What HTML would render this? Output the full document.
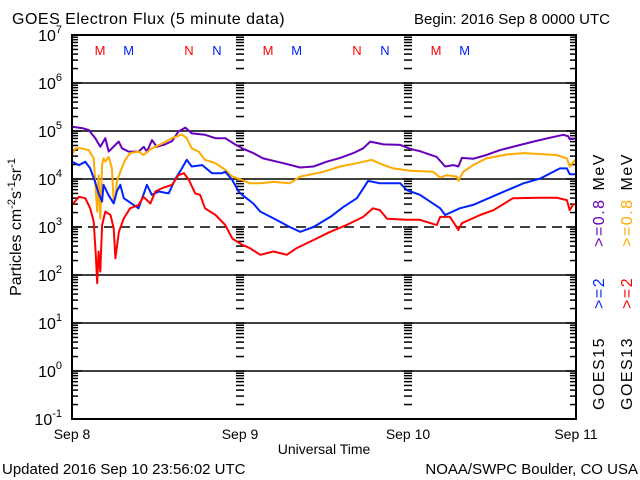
<!DOCTYPE html>
<html><head><meta charset="utf-8"><style>
html,body{margin:0;padding:0;background:#fff;}
svg{display:block;font-family:"Liberation Sans",sans-serif;}
</style></head><body>
<svg id="chart" width="640" height="480" viewBox="0 0 640 480">
<text x="12" y="24" font-size="16" letter-spacing="0.5">GOES Electron Flux (5 minute data)</text>
<text x="610" y="24" font-size="15" text-anchor="end">Begin: 2016 Sep 8 0000 UTC</text>
<g id="grid"></g>
<g id="ticks"></g>
<g id="series"></g>
<rect x="72" y="35" width="504" height="384" fill="none" stroke="#000" stroke-width="2"/>
<g id="ylabels"></g>
<g id="xlabels"></g>
<g id="markers"></g>
<text transform="translate(21,227) rotate(-90)" font-size="16" text-anchor="middle">Particles cm<tspan font-size="11" dy="-6">-2</tspan><tspan dy="6">s</tspan><tspan font-size="11" dy="-6">-1</tspan><tspan dy="6">sr</tspan><tspan font-size="11" dy="-6">-1</tspan></text>
<text x="324" y="454" font-size="14" text-anchor="middle">Universal Time</text>
<text x="2" y="474" font-size="15">Updated 2016 Sep 10 23:56:02 UTC</text>
<text x="638" y="474" font-size="15" text-anchor="end">NOAA/SWPC Boulder, CO USA</text>
<text transform="translate(604,410) rotate(-90)" font-size="16" letter-spacing="1.5"><tspan fill="#000">GOES15</tspan><tspan fill="#0022ff" dx="28">&gt;=2</tspan><tspan fill="#6600bb" dx="30">&gt;=0.8</tspan><tspan fill="#000" dx="8">MeV</tspan></text>
<text transform="translate(632,410) rotate(-90)" font-size="16" letter-spacing="1.5"><tspan fill="#000">GOES13</tspan><tspan fill="#ff0000" dx="28">&gt;=2</tspan><tspan fill="#ffaa00" dx="30">&gt;=0.8</tspan><tspan fill="#000" dx="8">MeV</tspan></text>
</svg>
<script>
const hoursP=[0,1.43,2.38,3.33,4.05,4.76,5.24,6.19,6.67,7.14,8.1,9.52,10.24,10.7,11.43,12.1,13.3,14.3,15.2,16.2,17.1,19,20.5,21.9,23.3,24.3,25.9,27.3,30.2,32.6,34.5,36.4,38.3,40.2,41.6,42.6,44.5,46.9,48.3,49.7,52.1,53.3,54.5,55.2,55.7,57.3,59.2,61.1,63.5,65.9,68.3,70.2,70.9,71.1,71.9];
const purple=[5.09,5.06,5.02,4.85,4.67,4.85,4.57,4.71,4.78,4.64,4.57,4.57,4.67,4.57,4.81,4.67,4.72,4.79,4.99,5.07,4.95,4.92,4.85,4.85,4.72,4.64,4.54,4.43,4.33,4.24,4.26,4.36,4.44,4.54,4.64,4.78,4.72,4.71,4.63,4.58,4.46,4.26,4.29,4.26,4.44,4.42,4.5,4.6,4.69,4.78,4.86,4.92,4.89,4.83,4.84];
const hoursO=[0,0.5,1.4,2.4,3.1,3.6,3.8,4.05,4.3,4.5,4.76,5.24,5.7,5.95,6.2,6.4,6.9,7.6,8.3,9.5,10.2,11.4,12.9,14.3,15.7,16.4,17.1,18.1,19,20.5,21.9,22.9,24.3,25.4,26.9,28.8,31.1,32.6,35.9,38.3,40.7,42.8,44.5,45.9,48.3,51.6,52.6,53.5,55,55.2,55.9,57.3,59.2,62.1,64.5,69.2,70.7,71.1,71.9];
const orange=[4.5,4.64,4.64,4.6,4.43,3.32,4.08,3.18,4.29,4.43,4.36,4.46,4.22,3.53,3.6,3.94,4.15,4.4,4.54,4.57,4.5,4.64,4.74,4.85,4.93,4.85,4.64,4.57,4.4,4.33,4.19,4.05,3.98,3.91,3.91,3.94,3.91,4.05,4.15,4.26,4.33,4.4,4.29,4.22,4.17,4.15,4.03,4.08,4.05,3.96,4.15,4.29,4.43,4.51,4.54,4.5,4.43,4.26,4.4];
const hoursB=[0,1,1.9,2.6,3.3,3.8,4.3,4.5,5.2,5.95,6.4,6.9,7.4,8.1,9.5,10.2,10.7,11.4,12.4,13.8,14.8,15.7,16.4,17.1,18.6,20,21.4,21.9,22.9,23.8,24.3,25.9,26.9,28.8,31.1,32.6,34.5,36.9,38.8,40.7,42.3,44,46.9,47.8,49.7,52.6,53.3,55.4,57.3,61.1,64.5,66.9,69.7,70.7,71.1,71.9];
const blue=[4.36,4.29,4.36,4.22,3.94,3.7,3.53,3.88,3.67,3.49,3.74,3.88,3.6,3.53,3.39,3.67,3.88,3.67,3.74,3.7,4.01,4.22,4.4,4.26,4.29,4.12,4.12,4.15,3.98,3.74,3.67,3.49,3.32,3.18,3.0,2.9,3.0,3.21,3.42,3.6,3.96,3.91,3.91,3.77,3.67,3.39,3.25,3.39,3.46,3.7,3.91,4.01,4.22,4.22,4.1,4.1];
const hoursR=[0,1,1.9,2.6,3.1,3.4,3.6,3.8,4.05,4.3,4.76,5.5,5.95,6.2,6.7,7.4,8.3,9.5,10.2,11.2,11.9,12.9,14.3,15.2,16,16.7,17.6,18.3,19,20.5,21.9,22.9,24.3,25.4,26.9,28.8,30.7,32.1,34.5,36.9,39.2,41.6,43,44,45,47.8,49.7,52.1,52.6,54,55.2,55.7,58.3,60.2,63,66.9,69.2,70.7,71.1,71.6,71.9];
const red=[3.46,3.63,3.6,3.39,3.11,2.42,1.83,2.49,2.07,3.04,3.32,3.25,2.97,2.35,2.9,3.18,3.39,3.46,3.63,3.49,3.74,3.81,3.88,4.08,4.12,3.98,3.7,3.67,3.39,3.25,3.04,2.76,2.63,2.56,2.42,2.49,2.42,2.56,2.73,2.9,3.04,3.21,3.39,3.35,3.17,3.15,3.15,3.04,3.21,3.21,2.94,3.08,3.25,3.35,3.6,3.61,3.61,3.56,3.35,3.47,3.47];
const yTickExp=[7,6,5,4,3,2,1,0,-1];
const xTickLabels=["Sep 8","Sep 9","Sep 10","Sep 11"];
const markerHours=[4,8.1,16.7,20.7,28,32.1,40.7,44.7,52,56.1];
const markerText=["M","M","N","N","M","M","N","N","M","M"];
const markerColor=["#ff0000","#0022ff","#ff0000","#0022ff","#ff0000","#0022ff","#ff0000","#0022ff","#ff0000","#0022ff"];

const NS="http://www.w3.org/2000/svg";
const X0=72,X1=576,Y0=35,Y1=419;
function xs(h){return X0+(X1-X0)*h/72;}
function ys(l){return Y0+(7-l)*(Y1-Y0)/8;}
function mk(tag,attrs,parent){const e=document.createElementNS(NS,tag);for(const k in attrs)e.setAttribute(k,attrs[k]);parent.appendChild(e);return e;}
const grid=document.getElementById('grid'),ticks=document.getElementById('ticks');
yTickExp.forEach(function(e){
  if(e<7&&e>-1){
    const ln=mk('line',{x1:X0,x2:X1,y1:ys(e),y2:ys(e),stroke:'#000','stroke-width':1.5},grid);
    if(e===3)ln.setAttribute('stroke-dasharray','10,6');
    
    
  }
  if(e>-1){
    for(let m=2;m<=9;m++){
      const y=ys(e-1+Math.log10(m));
      [[X0,X0+6],[X1-6,X1],[xs(24)-4,xs(24)+4],[xs(48)-4,xs(48)+4]].forEach(function(p){
        const t=mk('line',{x1:p[0],x2:p[1],y1:y,y2:y,stroke:'#000','stroke-width':1.5},ticks);
        
        
      });
    }
    [[X0,X0+10],[X1-10,X1],[xs(24)-5,xs(24)+5],[xs(48)-5,xs(48)+5]].forEach(function(p){
      const t=mk('line',{x1:p[0],x2:p[1],y1:ys(e),y2:ys(e),stroke:'#000','stroke-width':1.5},ticks);
      
      
    });
  }
});
const yl=document.getElementById('ylabels');
yTickExp.forEach(function(e){
  const t=mk('text',{x:62,y:ys(e)+6,'font-size':16,'text-anchor':'end'},yl);
  t.innerHTML='10<tspan font-size="11" dy="-8">'+e+'</tspan>';
  
  
});
const xl=document.getElementById('xlabels');
xTickLabels.forEach(function(s,i){
  const t=mk('text',{x:xs(i*24),y:439,'font-size':14,'text-anchor':'middle'},xl);
  t.textContent=s;
  
  
});
const mg=document.getElementById('markers');
markerHours.forEach(function(h,i){
  const t=mk('text',{x:xs(h),y:55,'font-size':13,'text-anchor':'middle',fill:markerColor[i]},mg);
  t.textContent=markerText[i];
  
  
});
const sg=document.getElementById('series');
[[hoursP,purple,'#6600bb','goes15-0.8mev-line'],[hoursO,orange,'#ffaa00','goes13-0.8mev-line'],[hoursB,blue,'#0022ff','goes15-2mev-line'],[hoursR,red,'#ff0000','goes13-2mev-line']].forEach(function(s){
  const pts=s[0].map(function(h,i){return xs(h).toFixed(1)+','+ys(s[1][i]).toFixed(1);}).join(' ');
  const p=mk('polyline',{points:pts,fill:'none',stroke:s[2],'stroke-width':2,'stroke-linejoin':'round'},sg);
  
  
});
</script>
</body></html>
